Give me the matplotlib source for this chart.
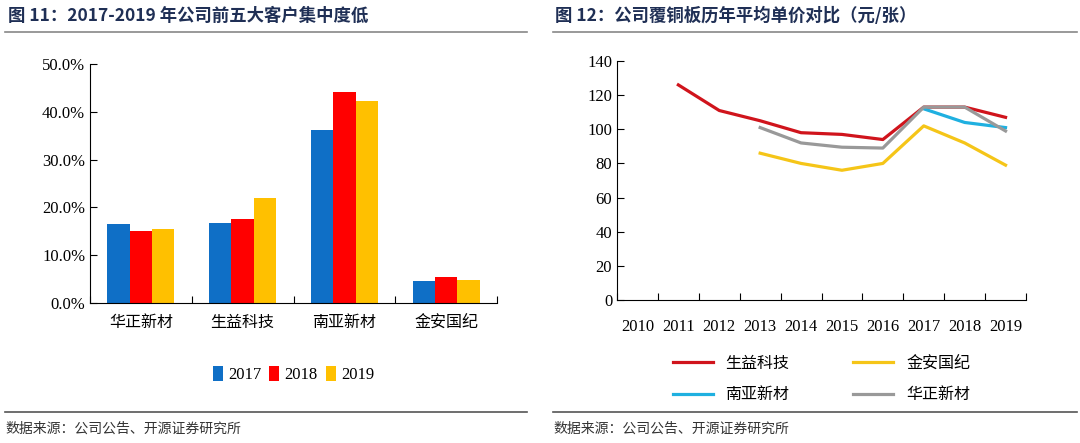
import matplotlib
matplotlib.use("Agg")
import matplotlib.pyplot as plt
from matplotlib.lines import Line2D
import numpy as np

plt.rcParams["font.family"] = ["Noto Sans CJK SC"]

# left chart: top-5 customer concentration
companies = ["华正新材", "生益科技", "南亚新材", "金安国纪"]
years = ["2017", "2018", "2019"]
share_2017 = [16.5, 16.7, 36.2, 4.7]
share_2018 = [15.0, 17.6, 44.1, 5.4]
share_2019 = [15.5, 22.0, 42.3, 4.8]

# right chart: average price per sheet
price_years = ["2010", "2011", "2012", "2013", "2014", "2015", "2016", "2017", "2018", "2019"]
shengyi = [None, 126, 111, 105, 98, 97, 94, 113, 113, 107]
jinan = [None, None, None, 86, 80, 76, 80, 102, 92, 79]
nanya = [None, None, None, None, None, None, None, 112, 104, 101]
huazheng = [None, None, None, 101, 92, 89.5, 89, 113, 113, 99]

W, H = 1080, 443
fig = plt.figure(figsize=(10.8, 4.43), dpi=100)
serif = "Liberation Serif"
title_c = "#1f2f55"

def fx(px):
    return px / W

def fy(py):
    return 1 - py / H

# titles and rules
fig.text(fx(8), fy(16), "图 11：2017-2019 年公司前五大客户集中度低", fontsize=12.5,
         fontweight="bold", color=title_c, va="center")
fig.text(fx(555), fy(16), "图 12：公司覆铜板历年平均单价对比（元/张）", fontsize=12.5,
         fontweight="bold", color=title_c, va="center")
for x0, x1 in [(5, 527), (553, 1077)]:
    fig.add_artist(Line2D([fx(x0), fx(x1)], [fy(32), fy(32)], color="#888888", lw=1.2))
    fig.add_artist(Line2D([fx(x0), fx(x1)], [fy(412), fy(412)], color="#555555", lw=1.2))
fig.text(fx(5), fy(429), "数据来源：公司公告、开源证券研究所", fontsize=10, color="#333333", va="center")
fig.text(fx(553), fy(429), "数据来源：公司公告、开源证券研究所", fontsize=10, color="#333333", va="center")

# bar chart
ax1 = fig.add_axes([fx(90), fy(303), fx(497 - 90), (303 - 64) / H])
x = np.arange(len(companies))
w = 0.22
colors = ["#0f6fc6", "#ff0000", "#ffc000"]
for i, (vals, lab) in enumerate(zip([share_2017, share_2018, share_2019], years)):
    ax1.bar(x + (i - 1) * w, vals, w, color=colors[i], label=lab)
ax1.set_xlim(-0.5, 3.5)
ax1.set_ylim(0, 50)
ax1.set_yticks(np.arange(0, 51, 10))
ax1.set_yticklabels([f"{v:.1f}%" for v in range(0, 51, 10)], fontfamily=serif, fontsize=12)
ax1.set_xticks([-0.5, 0.5, 1.5, 2.5, 3.5])
ax1.set_xticklabels([])
ax1.set_xticks(x, minor=True)
ax1.set_xticklabels(companies, minor=True, fontsize=11.5)
ax1.tick_params(axis="x", which="minor", length=0, pad=8)
ax1.tick_params(axis="x", which="major", direction="in", length=5)
ax1.tick_params(axis="y", direction="in", length=5)
for s in ["top", "right"]:
    ax1.spines[s].set_visible(False)
ax1.legend(loc="upper center", bbox_to_anchor=(0.5, -0.2), ncol=3, frameon=False,
           handlelength=0.6, handleheight=1.0, handletextpad=0.3, columnspacing=0.5,
           prop={"family": serif, "size": 12})

# line chart
ax2 = fig.add_axes([fx(617), fy(300), fx(1026 - 617), (300 - 61) / H])
xp = np.arange(len(price_years))
def arr(v):
    return np.array([np.nan if a is None else a for a in v], dtype=float)
ax2.plot(xp, arr(shengyi), color="#d0141c", lw=2.3, label="生益科技")
ax2.plot(xp, arr(jinan), color="#f5c518", lw=2.3, label="金安国纪")
ax2.plot(xp, arr(nanya), color="#1fb0e0", lw=2.3, label="南亚新材")
ax2.plot(xp, arr(huazheng), color="#999999", lw=2.3, label="华正新材")
ax2.set_xlim(-0.5, 9.5)
ax2.set_ylim(0, 140)
ax2.set_yticks(np.arange(0, 141, 20))
ax2.set_yticklabels([str(v) for v in range(0, 141, 20)], fontfamily=serif, fontsize=12)
ax2.set_xticks(np.arange(-0.5, 10, 1))
ax2.set_xticklabels([])
ax2.set_xticks(xp, minor=True)
ax2.set_xticklabels(price_years, minor=True, fontfamily=serif, fontsize=12)
ax2.tick_params(axis="x", which="minor", length=0, pad=14)
ax2.tick_params(axis="x", which="major", direction="in", length=5)
ax2.tick_params(axis="y", direction="in", length=5)
for s in ["top", "right"]:
    ax2.spines[s].set_visible(False)
h, l = ax2.get_legend_handles_labels()
# column-wise fill so rows read 生益/金安, 南亚/华正
order = [0, 2, 1, 3]
ax2.legend([h[i] for i in order], [l[i] for i in order], loc="upper center",
           bbox_to_anchor=(0.5, -0.17), ncol=2, frameon=False, handlelength=2.5,
           columnspacing=4, labelspacing=0.9, prop={"size": 11.5})

fig.savefig("out.png", dpi=100)
